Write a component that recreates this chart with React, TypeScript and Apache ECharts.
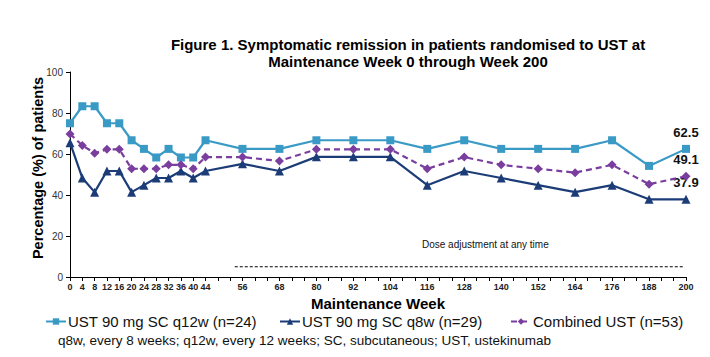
import React, { useEffect, useRef } from "react";
import * as echarts from "echarts";

const weeks = [0, 4, 8, 12, 16, 20, 24, 28, 32, 36, 40, 44, 56, 68, 80, 92, 104, 116, 128, 140, 152, 164, 176, 188, 200];
const q12w = [75.0, 83.3, 83.3, 75.0, 75.0, 66.7, 62.5, 58.3, 62.5, 58.3, 58.3, 66.7, 62.5, 62.5, 66.7, 66.7, 66.7, 62.5, 66.7, 62.5, 62.5, 62.5, 66.7, 54.2, 62.5];
const q8w = [65.5, 48.3, 41.4, 51.7, 51.7, 41.4, 44.8, 48.3, 48.3, 51.7, 48.3, 51.7, 55.2, 51.7, 58.6, 58.6, 58.6, 44.8, 51.7, 48.3, 44.8, 41.4, 44.8, 37.9, 37.9];
const combined = [69.8, 64.2, 60.4, 62.3, 62.3, 52.8, 52.8, 52.8, 54.7, 54.7, 52.8, 58.5, 58.5, 56.6, 62.3, 62.3, 62.3, 52.8, 58.5, 54.7, 52.8, 50.9, 54.7, 45.3, 49.1];
const xTickLabels = [0, 4, 8, 12, 16, 20, 24, 28, 32, 36, 40, 44, 56, 68, 80, 92, 104, 116, 128, 140, 152, 164, 176, 188, 200];
const doseAdjustmentWeeks = [53.5, 199.5];
const doseAdjustmentLevel = 5;

const seriesNames = ["UST 90 mg SC q12w (n=24)", "UST 90 mg SC q8w (n=29)", "Combined UST (n=53)"];
const FONT = "'Liberation Sans', Arial, sans-serif";

export default function App() {
  const ref = useRef<HTMLDivElement>(null);
  useEffect(() => {
    if (!ref.current) return;
    const chart = echarts.init(ref.current, undefined, { renderer: "svg" });
    const labelSet = new Set(xTickLabels);
    const pair = (arr: number[]) => weeks.map((w, i) => [w, arr[i]]);
    const endLabel = () => ({
      show: true,
      position: "top",
      distance: 6,
      fontSize: 13,
      fontWeight: "bold",
      fontFamily: FONT,
      color: "#111",
      formatter: (p: any) => (p.dataIndex === weeks.length - 1 ? String(p.value[1].toFixed(1)) : ""),
    });
    const legendBase = {
      top: 314,
      padding: 0,
      itemWidth: 20,
      itemHeight: 8,
      textStyle: { fontSize: 15, color: "#111", fontFamily: FONT, padding: [0, 0, 0, -3] },
    };
    chart.setOption({
      animation: false,
      textStyle: { fontFamily: FONT },
      title: {
        text: "Figure 1. Symptomatic remission in patients randomised to UST at\nMaintenance Week 0 through Week 200",
        left: 403,
        top: 31,
        textAlign: "center",
        textStyle: { fontSize: 15, fontWeight: "bold", color: "#000", lineHeight: 17, fontFamily: FONT },
      },
      grid: { left: 70, right: 24, top: 72, bottom: 80, containLabel: false },
      legend: [
        { ...legendBase, left: 45, data: [seriesNames[0]] },
        { ...legendBase, left: 279, data: [seriesNames[1]] },
        { ...legendBase, left: 510, data: [seriesNames[2]] },
      ],
      xAxis: {
        type: "value",
        min: 0,
        max: 200,
        interval: 4,
        name: "Maintenance Week",
        nameLocation: "middle",
        nameGap: 17,
        nameTextStyle: { fontSize: 15, fontWeight: "bold", color: "#000", fontFamily: FONT },
        axisLine: { lineStyle: { color: "#000", width: 1 } },
        axisTick: { show: true, length: 4, lineStyle: { color: "#000" } },
        splitLine: { show: false },
        axisLabel: {
          margin: 5,
          fontSize: 9,
          fontWeight: "bold",
          color: "#222",
          fontFamily: FONT,
          formatter: (v: number) => (labelSet.has(v) ? String(v) : ""),
        },
      },
      yAxis: {
        type: "value",
        min: 0,
        max: 100,
        interval: 20,
        axisLine: { show: true, lineStyle: { color: "#000", width: 1 } },
        axisTick: { show: true, length: 4, lineStyle: { color: "#000" } },
        splitLine: { show: false },
        axisLabel: { fontSize: 10, color: "#333", margin: 7, fontFamily: FONT },
      },
      graphic: [
        {
          type: "text",
          x: 38,
          y: 168,
          rotation: Math.PI / 2,
          style: {
            text: "Percentage (%) of patients",
            align: "center",
            verticalAlign: "middle",
            font: `bold 14.5px ${FONT}`,
            fill: "#000",
          },
        },
        {
          type: "text",
          x: 422,
          y: 244,
          style: {
            text: "Dose adjustment at any time",
            align: "left",
            verticalAlign: "middle",
            font: `10px ${FONT}`,
            fill: "#111",
          },
        },
        {
          type: "text",
          x: 58,
          y: 340,
          style: {
            text: "q8w, every 8 weeks; q12w, every 12 weeks; SC, subcutaneous; UST, ustekinumab",
            align: "left",
            verticalAlign: "middle",
            font: `13.5px ${FONT}`,
            fill: "#111",
          },
        },
      ],
      series: [
        {
          name: seriesNames[0],
          type: "line",
          data: pair(q12w),
          symbol: "rect",
          symbolSize: 8,
          itemStyle: { color: "#3A9AC6" },
          lineStyle: { color: "#3A9AC6", width: 2.2 },
          label: endLabel(),
          z: 3,
        },
        {
          name: seriesNames[1],
          type: "line",
          data: pair(q8w),
          symbol: "triangle",
          symbolSize: 9,
          itemStyle: { color: "#1C3C78" },
          lineStyle: { color: "#1C3C78", width: 2.2 },
          label: endLabel(),
          z: 4,
        },
        {
          name: seriesNames[2],
          type: "line",
          data: pair(combined),
          symbol: "diamond",
          symbolSize: 9,
          itemStyle: { color: "#7A3E9E" },
          lineStyle: { color: "#7A3E9E", width: 2.2, type: [6, 4] },
          label: endLabel(),
          z: 5,
        },
        {
          name: "Dose adjustment",
          type: "line",
          data: doseAdjustmentWeeks.map((w) => [w, doseAdjustmentLevel]),
          symbol: "none",
          lineStyle: { color: "#000", width: 1, type: [3, 2] },
          silent: true,
          z: 2,
        },
      ],
    });
    return () => chart.dispose();
  }, []);
  return <div ref={ref} style={{ position: "fixed", left: 0, top: 0, width: 710, height: 357, background: "#fff" }} />;
}
